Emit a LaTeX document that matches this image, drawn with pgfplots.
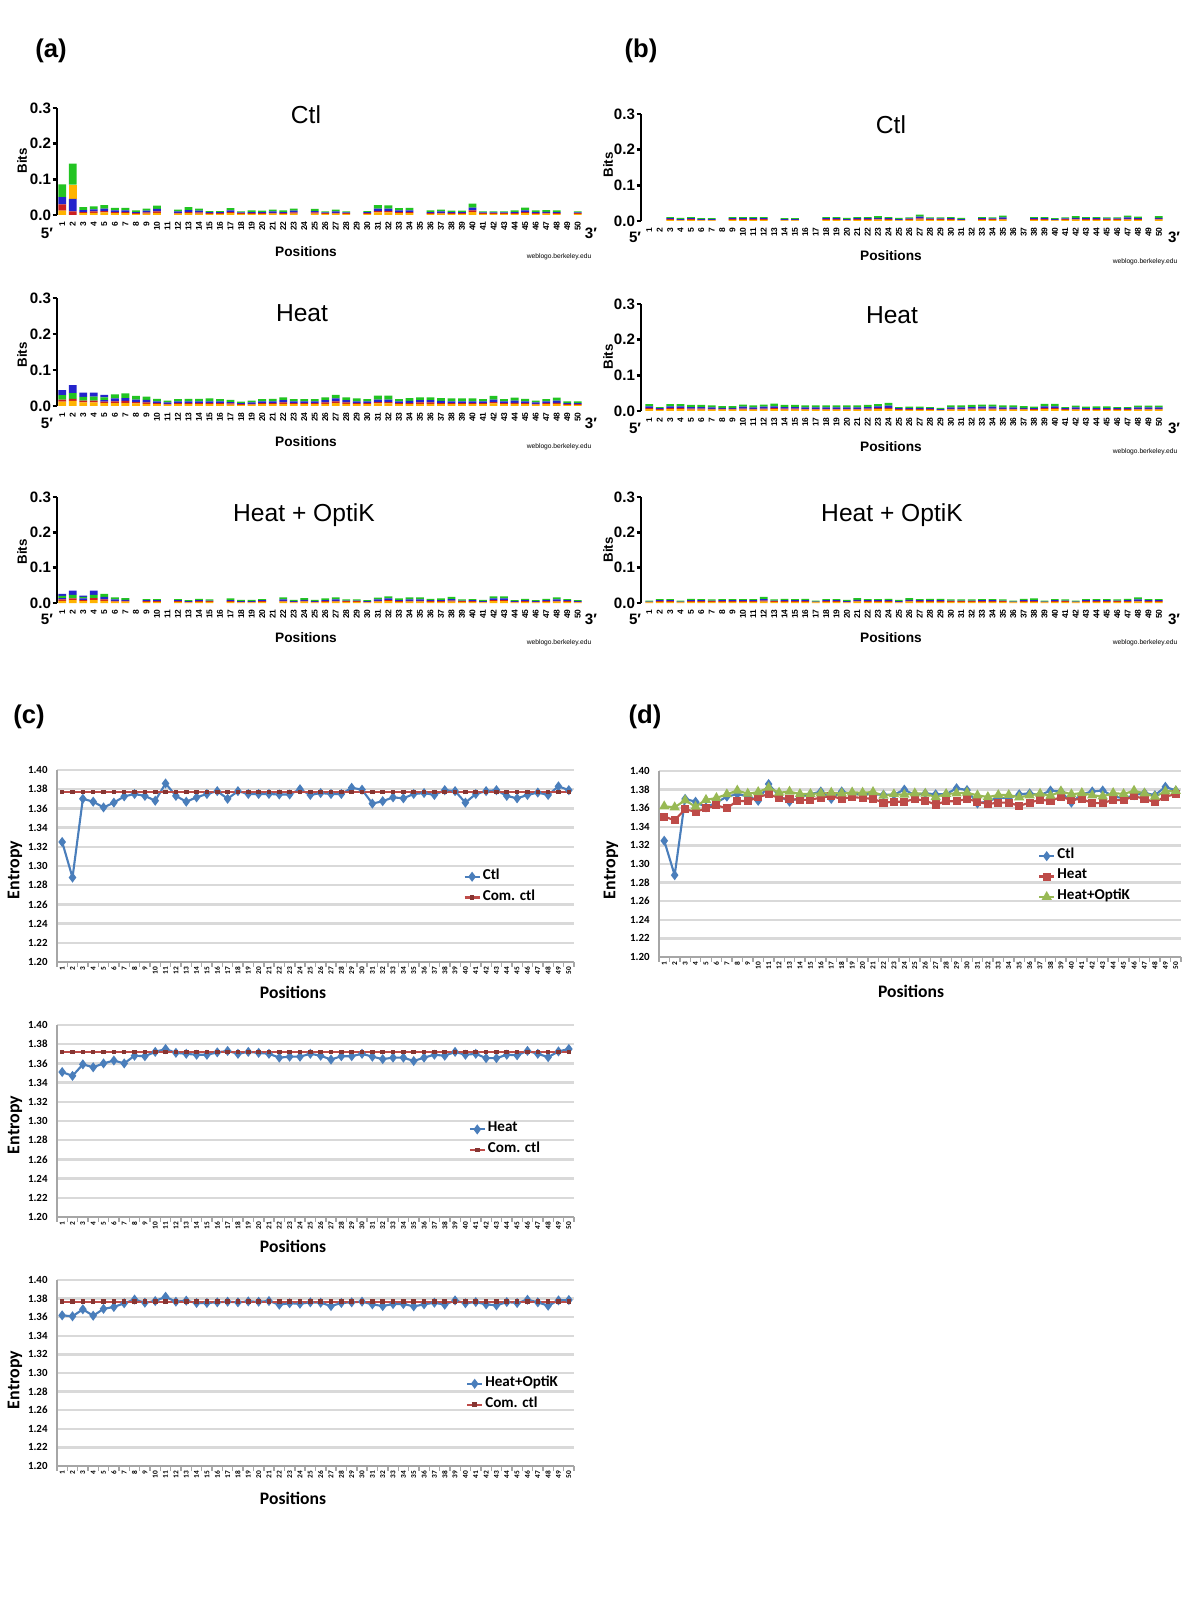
\documentclass[border=0pt]{standalone}
\usepackage{pgfplots}
\pgfplotsset{compat=1.18}
\usepackage{pgfplotstable}
\usepackage{fontspec}
\setmainfont{Liberation Sans}
\newfontfamily\carl{Carlito}
\definecolor{lA}{HTML}{22C422}
\definecolor{lC}{HTML}{2424CC}
\definecolor{lG}{HTML}{FFB300}
\definecolor{lT}{HTML}{CC2020}
\definecolor{xb}{HTML}{4A7EBB}
\definecolor{xr}{HTML}{BE4B48}
\definecolor{xg}{HTML}{98B954}
\definecolor{gridc}{HTML}{D9D9D9}
\definecolor{axg}{HTML}{A6A6A6}

% ---------- weblogo stacks (bits) : g t c g2 a c2 ----------
\pgfplotstableread{
x g t c g2 a c2
1 .012 .018 .020 0 .036 0
2 0 .010 .035 .040 .059 0
3 .005 .003 .006 0 .008 0
4 .006 .004 .006 0 .008 0
5 .007 .004 .007 0 .010 0
6 .005 .003 .005 0 .007 0
7 .005 .003 .005 0 .007 0
8 .003 .002 .003 0 .005 0
9 .004 .003 .005 0 .006 0
10 .006 .004 .007 0 .009 0
11 0 0 0 0 0 0
12 .004 .002 .004 0 .005 0
13 .005 .003 .006 0 .008 0
14 .004 .003 .005 0 .006 0
15 .003 .002 .003 0 .003 0
16 .003 .002 .003 0 .003 0
17 .005 .003 .005 0 .006 0
18 .003 .002 .002 0 .003 0
19 .003 .002 .003 0 .005 0
20 .003 .002 .003 0 .004 0
21 .004 .002 .004 0 .005 0
22 .003 .002 .003 0 .005 0
23 .004 .003 .005 0 .006 0
24 0 0 0 0 0 0
25 .004 .003 .004 0 .006 0
26 .003 .002 .002 0 .003 0
27 .004 .002 .004 0 .005 0
28 .003 .002 .002 0 .003 0
29 0 0 0 0 0 0
30 .003 .002 .003 0 .003 0
31 .007 .004 .007 0 .010 0
32 .007 .004 .007 0 .009 0
33 .005 .003 .005 0 .006 0
34 .005 .003 .005 0 .007 0
35 0 0 0 0 0 0
36 .003 .002 .003 0 .005 0
37 .004 .002 .004 0 .005 0
38 .003 .002 .003 0 .004 0
39 .003 .002 .003 0 .004 0
40 .008 .005 .008 0 .011 0
41 .003 .002 .002 0 .003 0
42 .003 .002 .002 0 .003 0
43 .003 .002 .002 0 .003 0
44 .003 .002 .003 0 .005 0
45 .005 .003 .005 0 .008 0
46 .003 .002 .003 0 .005 0
47 .004 .002 .003 0 .005 0
48 .003 .002 .003 0 .005 0
49 0 0 0 0 0 0
50 .003 .002 .002 0 .003 0
}\logoACtl

\pgfplotstableread{
x g t c g2 a c2
1 .012 .006 0 0 .012 .014
2 .014 .006 0 0 .016 .022
3 .010 .005 0 0 .010 .012
4 .010 .005 0 0 .011 .011
5 .008 .004 .004 0 .008 .007
6 .008 .005 .008 0 .011 0
7 .008 .006 .008 0 .013 0
8 .007 .004 .007 0 .010 0
9 .006 .004 .007 0 .009 0
10 .005 .003 .005 0 .007 0
11 .004 .002 .004 0 .005 0
12 .005 .003 .005 0 .006 0
13 .005 .003 .005 0 .007 0
14 .005 .003 .005 0 .007 0
15 .005 .003 .005 0 .008 0
16 .005 .003 .005 0 .006 0
17 .004 .003 .004 0 .006 0
18 .003 .002 .003 0 .004 0
19 .004 .002 .004 0 .005 0
20 .005 .003 .005 0 .006 0
21 .005 .003 .005 0 .007 0
22 .006 .004 .006 0 .008 0
23 .005 .003 .005 0 .006 0
24 .005 .003 .005 0 .006 0
25 .005 .003 .005 0 .006 0
26 .006 .004 .006 0 .008 0
27 .008 .005 .008 0 .010 0
28 .006 .004 .006 0 .008 0
29 .005 .003 .005 0 .008 0
30 .005 .003 .005 0 .006 0
31 .007 .004 .007 0 .011 0
32 .007 .004 .007 0 .011 0
33 .005 .003 .005 0 .006 0
34 .005 .003 .006 0 .008 0
35 .006 .004 .006 0 .008 0
36 .006 .004 .006 0 .008 0
37 .005 .003 .006 0 .008 0
38 .005 .003 .005 0 .008 0
39 .005 .003 .005 0 .008 0
40 .005 .003 .005 0 .008 0
41 .005 .003 .005 0 .006 0
42 .007 .004 .007 0 .010 0
43 .005 .003 .005 0 .006 0
44 .006 .003 .006 0 .008 0
45 .005 .003 .005 0 .007 0
46 .004 .002 .004 0 .005 0
47 .005 .003 .005 0 .006 0
48 .006 .003 .006 0 .008 0
49 .003 .002 .003 0 .005 0
50 .003 .002 .003 0 .005 0
}\logoAHeat

\pgfplotstableread{
x g t c g2 a c2
1 .006 .004 .004 0 .006 .006
2 .008 .005 0 0 .010 .012
3 .005 .003 .005 0 .004 .004
4 .008 .006 0 0 .009 .012
5 .006 .004 .007 0 .009 0
6 .004 .002 .004 0 .006 0
7 .004 .002 .003 0 .005 0
8 0 0 0 0 0 0
9 .003 .002 .003 0 .003 0
10 .003 .002 .003 0 .003 0
11 0 0 0 0 0 0
12 .003 .002 .003 0 .003 0
13 .002 .001 .002 0 .003 0
14 .003 .002 .003 0 .004 0
15 .003 .002 .002 0 .003 0
16 0 0 0 0 0 0
17 .003 .002 .003 0 .005 0
18 .002 .001 .002 0 .004 0
19 .002 .001 .002 0 .004 0
20 .003 .002 .003 0 .003 0
21 0 0 0 0 0 0
22 .004 .002 .004 0 .006 0
23 .002 .001 .002 0 .004 0
24 .004 .002 .003 0 .005 0
25 .002 .001 .002 0 .004 0
26 .003 .002 .003 0 .005 0
27 .004 .002 .004 0 .006 0
28 .003 .002 .002 0 .003 0
29 .003 .002 .002 0 .003 0
30 .002 .001 .002 0 .003 0
31 .004 .002 .004 0 .005 0
32 .005 .003 .005 0 .006 0
33 .003 .002 .003 0 .005 0
34 .004 .002 .004 0 .006 0
35 .004 .002 .004 0 .006 0
36 .003 .002 .003 0 .004 0
37 .003 .002 .003 0 .005 0
38 .004 .003 .004 0 .006 0
39 .003 .002 .002 0 .003 0
40 .003 .002 .003 0 .003 0
41 .002 .001 .002 0 .004 0
42 .005 .003 .005 0 .006 0
43 .005 .003 .005 0 .006 0
44 .002 .001 .002 0 .003 0
45 .003 .002 .003 0 .004 0
46 .002 .001 .002 0 .003 0
47 .003 .002 .003 0 .004 0
48 .004 .002 .004 0 .006 0
49 .003 .002 .003 0 .003 0
50 .002 .001 .002 0 .003 0
}\logoAHO

\pgfplotstableread{
x g t c g2 a c2
1 0 0 0 0 0 0
2 0 0 0 0 0 0
3 .003 .002 .003 0 .003 0
4 .002 .001 .002 0 .004 0
5 .003 .002 .003 0 .003 0
6 .002 .001 .002 0 .003 0
7 .002 .001 .002 0 .003 0
8 0 0 0 0 0 0
9 .003 .002 .003 0 .003 0
10 .003 .002 .003 0 .003 0
11 .003 .002 .003 0 .003 0
12 .003 .002 .003 0 .003 0
13 0 0 0 0 0 0
14 .002 .001 .002 0 .003 0
15 .002 .001 .002 0 .003 0
16 0 0 0 0 0 0
17 0 0 0 0 0 0
18 .003 .002 .003 0 .003 0
19 .003 .002 .003 0 .003 0
20 .002 .001 .002 0 .004 0
21 .003 .002 .003 0 .003 0
22 .003 .002 .003 0 .003 0
23 .004 .002 .003 0 .005 0
24 .003 .002 .003 0 .003 0
25 .002 .001 .002 0 .004 0
26 .003 .002 .002 0 .003 0
27 .004 .003 .005 0 .006 0
28 .003 .002 .002 0 .003 0
29 .003 .002 .002 0 .003 0
30 .003 .002 .003 0 .003 0
31 .002 .001 .002 0 .004 0
32 0 0 0 0 0 0
33 .003 .002 .003 0 .003 0
34 .003 .002 .002 0 .003 0
35 .004 .002 .004 0 .005 0
36 0 0 0 0 0 0
37 0 0 0 0 0 0
38 .003 .002 .003 0 .003 0
39 .003 .002 .003 0 .003 0
40 .002 .001 .002 0 .003 0
41 .003 .002 .002 0 .003 0
42 .004 .002 .003 0 .005 0
43 .003 .002 .003 0 .003 0
44 .003 .002 .003 0 .003 0
45 .003 .002 .002 0 .003 0
46 .003 .002 .002 0 .003 0
47 .004 .002 .004 0 .005 0
48 .003 .002 .003 0 .004 0
49 0 0 0 0 0 0
50 .004 .002 .003 0 .005 0
}\logoBCtl

\pgfplotstableread{
x g t c g2 a c2
1 .005 .003 .005 0 .006 0
2 .003 .002 .003 0 .003 0
3 .005 .003 .005 0 .006 0
4 .005 .003 .005 0 .006 0
5 .004 .003 .004 0 .006 0
6 .004 .003 .004 0 .006 0
7 .004 .002 .004 0 .006 0
8 .004 .002 .003 0 .005 0
9 .004 .002 .003 0 .005 0
10 .004 .003 .005 0 .006 0
11 .004 .002 .004 0 .006 0
12 .004 .003 .005 0 .006 0
13 .005 .003 .005 0 .008 0
14 .004 .003 .004 0 .006 0
15 .004 .003 .004 0 .006 0
16 .004 .002 .004 0 .006 0
17 .004 .002 .004 0 .006 0
18 .004 .002 .004 0 .006 0
19 .004 .002 .004 0 .006 0
20 .004 .002 .004 0 .006 0
21 .004 .002 .004 0 .006 0
22 .004 .003 .004 0 .006 0
23 .005 .003 .005 0 .006 0
24 .006 .003 .006 0 .008 0
25 .003 .002 .003 0 .003 0
26 .003 .002 .003 0 .004 0
27 .003 .002 .003 0 .004 0
28 .003 .002 .003 0 .003 0
29 .002 .001 .002 0 .004 0
30 .004 .002 .004 0 .006 0
31 .004 .002 .004 0 .006 0
32 .004 .003 .004 0 .006 0
33 .004 .003 .005 0 .006 0
34 .004 .003 .005 0 .006 0
35 .004 .002 .004 0 .006 0
36 .004 .002 .004 0 .006 0
37 .004 .002 .003 0 .005 0
38 .003 .002 .003 0 .004 0
39 .005 .003 .005 0 .007 0
40 .005 .003 .005 0 .007 0
41 .003 .002 .003 0 .003 0
42 .004 .002 .004 0 .005 0
43 .003 .002 .003 0 .004 0
44 .003 .002 .003 0 .005 0
45 .003 .002 .003 0 .005 0
46 .003 .002 .003 0 .003 0
47 .003 .002 .003 0 .003 0
48 .004 .002 .004 0 .005 0
49 .004 .002 .004 0 .005 0
50 .004 .002 .004 0 .005 0
}\logoBHeat

\pgfplotstableread{
x g t c g2 a c2
1 .002 .001 .001 0 .003 0
2 .003 .002 .003 0 .003 0
3 .003 .002 .003 0 .003 0
4 .002 .001 .001 0 .003 0
5 .003 .002 .003 0 .004 0
6 .003 .002 .003 0 .003 0
7 .003 .002 .002 0 .003 0
8 .003 .002 .003 0 .003 0
9 .003 .002 .003 0 .003 0
10 .003 .002 .003 0 .003 0
11 .003 .002 .003 0 .003 0
12 .004 .003 .004 0 .006 0
13 .003 .002 .002 0 .003 0
14 .003 .002 .003 0 .004 0
15 .003 .002 .003 0 .003 0
16 .003 .002 .003 0 .004 0
17 .002 .001 .001 0 .003 0
18 .003 .002 .003 0 .003 0
19 .003 .002 .003 0 .003 0
20 .002 .001 .002 0 .004 0
21 .004 .002 .003 0 .005 0
22 .003 .002 .003 0 .003 0
23 .003 .002 .003 0 .003 0
24 .003 .002 .003 0 .004 0
25 .002 .001 .002 0 .004 0
26 .004 .002 .003 0 .005 0
27 .003 .002 .003 0 .003 0
28 .003 .002 .003 0 .004 0
29 .003 .002 .003 0 .004 0
30 .003 .002 .002 0 .003 0
31 .003 .002 .002 0 .003 0
32 .003 .002 .002 0 .003 0
33 .003 .002 .003 0 .003 0
34 .003 .002 .003 0 .003 0
35 .003 .002 .002 0 .003 0
36 .002 .001 .001 0 .003 0
37 .003 .002 .003 0 .004 0
38 .003 .002 .003 0 .005 0
39 .002 .001 .001 0 .003 0
40 .003 .002 .003 0 .003 0
41 .003 .002 .002 0 .003 0
42 .002 .001 .001 0 .003 0
43 .003 .002 .003 0 .003 0
44 .003 .002 .003 0 .003 0
45 .003 .002 .003 0 .003 0
46 .003 .002 .002 0 .003 0
47 .003 .002 .003 0 .004 0
48 .004 .002 .004 0 .006 0
49 .003 .002 .003 0 .003 0
50 .003 .002 .003 0 .003 0
}\logoBHO

% ---------- entropy per position ----------
\pgfplotstableread{
x ctl heat ho cca ccb ccc
1 1.325 1.351 1.362 1.377 1.3718 1.3768
2 1.288 1.347 1.361 1.377 1.3718 1.3768
3 1.370 1.359 1.3685 1.377 1.3718 1.3768
4 1.367 1.356 1.3616 1.377 1.3718 1.3768
5 1.361 1.360 1.369 1.377 1.3718 1.3768
6 1.366 1.363 1.371 1.377 1.3718 1.3768
7 1.3725 1.360 1.375 1.377 1.3718 1.3768
8 1.375 1.368 1.379 1.377 1.3718 1.3768
9 1.373 1.3675 1.3756 1.377 1.3718 1.3768
10 1.368 1.372 1.3774 1.377 1.3718 1.3768
11 1.386 1.375 1.382 1.377 1.3718 1.3768
12 1.373 1.371 1.3767 1.377 1.3718 1.3768
13 1.367 1.370 1.3778 1.377 1.3718 1.3768
14 1.3715 1.369 1.3753 1.377 1.3718 1.3768
15 1.375 1.369 1.3753 1.377 1.3718 1.3768
16 1.378 1.3715 1.376 1.377 1.3718 1.3768
17 1.370 1.373 1.3767 1.377 1.3718 1.3768
18 1.378 1.370 1.376 1.377 1.3718 1.3768
19 1.375 1.372 1.377 1.377 1.3718 1.3768
20 1.375 1.371 1.3767 1.377 1.3718 1.3768
21 1.375 1.370 1.3774 1.377 1.3718 1.3768
22 1.3745 1.366 1.3735 1.377 1.3718 1.3768
23 1.3745 1.367 1.375 1.377 1.3718 1.3768
24 1.380 1.367 1.3745 1.377 1.3718 1.3768
25 1.374 1.370 1.376 1.377 1.3718 1.3768
26 1.376 1.368 1.3756 1.377 1.3718 1.3768
27 1.375 1.364 1.372 1.377 1.3718 1.3768
28 1.375 1.3675 1.3753 1.377 1.3718 1.3768
29 1.3815 1.3675 1.376 1.377 1.3718 1.3768
30 1.3795 1.370 1.3767 1.377 1.3718 1.3768
31 1.365 1.367 1.3738 1.377 1.3718 1.3768
32 1.3675 1.3645 1.372 1.377 1.3718 1.3768
33 1.3715 1.366 1.3742 1.377 1.3718 1.3768
34 1.3705 1.366 1.3742 1.377 1.3718 1.3768
35 1.375 1.3625 1.3717 1.377 1.3718 1.3768
36 1.376 1.366 1.3738 1.377 1.3718 1.3768
37 1.374 1.369 1.3756 1.377 1.3718 1.3768
38 1.379 1.368 1.3735 1.377 1.3718 1.3768
39 1.378 1.372 1.3781 1.377 1.3718 1.3768
40 1.366 1.369 1.375 1.377 1.3718 1.3768
41 1.375 1.370 1.3763 1.377 1.3718 1.3768
42 1.378 1.3655 1.3738 1.377 1.3718 1.3768
43 1.379 1.3655 1.3728 1.377 1.3718 1.3768
44 1.373 1.369 1.3763 1.377 1.3718 1.3768
45 1.3705 1.3685 1.3753 1.377 1.3718 1.3768
46 1.374 1.373 1.3788 1.377 1.3718 1.3768
47 1.3765 1.370 1.376 1.377 1.3718 1.3768
48 1.374 1.3665 1.3724 1.377 1.3718 1.3768
49 1.383 1.3725 1.3781 1.377 1.3718 1.3768
50 1.379 1.375 1.3785 1.377 1.3718 1.3768
}\ent

\pgfplotsset{
  logo/.style={
    scale only axis, width=5.26cm, height=1.07cm,
    xmin=0.5, xmax=50.5, ymin=0, ymax=0.3,
    ybar stacked, bar width=0.74,
    axis lines*=left,
    x axis line style={draw=none},
    y axis line style={line width=0.8pt, black},
    xtick={1,...,50}, xtick style={draw=none},
    ytick={0,0.1,0.2,0.3},
    ytick style={line width=0.8pt, black},
    tick align=outside, major tick length=0.045cm,
    /pgf/number format/assume math mode=true,
    yticklabel style={font=\fontsize{4.3}{5}\selectfont\bfseries, inner sep=0.25pt,
      /pgf/number format/.cd, fixed, fixed zerofill, precision=1, assume math mode=true},
    xticklabel style={rotate=90, anchor=east, font=\fontsize{2.4}{2.8}\selectfont\bfseries, inner sep=0.4pt},
    clip=false,
  },
  xls/.style={
    scale only axis, width=5.17cm, height=1.92cm,
    xmin=0.5, xmax=50.5, ymin=1.2, ymax=1.4,
    ytick={1.20,1.22,1.24,1.26,1.28,1.30,1.32,1.34,1.36,1.38,1.40},
    ymajorgrids, major grid style={gridc, line width=0.7pt},
    axis lines*=left, axis line style={axg, line width=0.5pt},
    xtick={1,...,50}, major x tick style={draw=none},
    minor xtick={0.5,1.5,...,50.5}, minor x tick style={axg, line width=0.4pt},
    ytick style={draw=none},
    tick align=outside, major tick length=0.02cm, minor tick length=0.045cm,
    /pgf/number format/assume math mode=true,
    yticklabel style={font=\carl\fontsize{3.1}{3.6}\selectfont\bfseries, inner sep=0.5pt, xshift=-0.05cm,
      /pgf/number format/.cd, fixed, fixed zerofill, precision=2, assume math mode=true},
    xticklabel style={rotate=90, anchor=east, font=\carl\fontsize{2.1}{2.4}\selectfont\bfseries, inner sep=0.6pt},
    legend style={draw=none, fill=none, font=\carl\fontsize{4.3}{5}\selectfont\bfseries,
      anchor=north west, inner sep=0pt, row sep=0.2pt, nodes={inner sep=0.6pt}},
    legend cell align=left,
    legend image code/.code={\draw[mark repeat=2,mark phase=2,##1] plot coordinates {(0cm,0cm)(0.075cm,0cm)(0.15cm,0cm)};},
  },
  ctlp/.style={xb, line width=0.6pt, mark=diamond*, mark size=0.95pt},
  heatp/.style={xr, line width=0.6pt, mark=square*, mark size=0.85pt},
  hop/.style={xg, line width=0.6pt, mark=triangle*, mark size=1.1pt},
  comp/.style={xr, line width=0.6pt, mark=square*, mark size=0.35pt, mark options={fill=xr!70!black, draw=xr!70!black}},
}

\newcommand\stacks[1]{%
  \addplot[fill=lG, draw=none] table[x=x,y=g]{#1};
  \addplot[fill=lT, draw=none] table[x=x,y=t]{#1};
  \addplot[fill=lC, draw=none] table[x=x,y=c]{#1};
  \addplot[fill=lG, draw=none] table[x=x,y=g2]{#1};
  \addplot[fill=lA, draw=none] table[x=x,y=a]{#1};
  \addplot[fill=lC, draw=none] table[x=x,y=c2]{#1};
}

\begin{document}
\begin{tikzpicture}
\path[use as bounding box, fill=white] (0,0) rectangle (12,-16);

% ===== panel labels =====
\tikzset{plab/.style={font=\fontsize{7.3}{8.5}\selectfont\bfseries, inner sep=0pt}}
\node[plab] at (0.51,-0.51) {(a)};
\node[plab] at (6.41,-0.51) {(b)};
\node[plab] at (0.29,-7.17) {(c)};
\node[plab] at (6.45,-7.17) {(d)};

\tikzset{
  ltitle/.style={font=\fontsize{7}{8}\selectfont, inner sep=0pt},
  lpos/.style={font=\fontsize{3.9}{4.5}\selectfont\bfseries, inner sep=0pt},
  lbits/.style={font=\fontsize{3.8}{4.5}\selectfont\bfseries, inner sep=0pt, rotate=90},
  lend/.style={font=\fontsize{4.3}{5}\selectfont\bfseries, inner sep=0pt},
  lweb/.style={font=\fontsize{1.9}{2.2}\selectfont, inner sep=0pt},
  xent/.style={font=\carl\fontsize{5.1}{6}\selectfont\bfseries, inner sep=0pt, rotate=90},
  xpos/.style={font=\carl\fontsize{5}{6}\selectfont\bfseries, inner sep=0pt},
}

% ===== (a) weblogos =====
\begin{axis}[logo, at={(0.57cm,-2.15cm)}, anchor=south west]
\stacks{\logoACtl}
\end{axis}
\begin{axis}[logo, at={(0.57cm,-4.06cm)}, anchor=south west, height=1.08cm]
\stacks{\logoAHeat}
\end{axis}
\begin{axis}[logo, at={(0.57cm,-6.03cm)}, anchor=south west, height=1.06cm]
\stacks{\logoAHO}
\end{axis}

% ===== (b) weblogos =====
\begin{axis}[logo, at={(6.41cm,-2.21cm)}, anchor=south west, xmin=0.2, width=5.23cm]
\stacks{\logoBCtl}
\end{axis}
\begin{axis}[logo, at={(6.41cm,-4.11cm)}, anchor=south west, xmin=0.2, width=5.23cm]
\stacks{\logoBHeat}
\end{axis}
\begin{axis}[logo, at={(6.41cm,-6.03cm)}, anchor=south west, xmin=0.2, width=5.23cm, height=1.06cm]
\stacks{\logoBHO}
\end{axis}

% weblogo texts
\node[ltitle] at (3.06,-1.15) {Ctl};
\node[ltitle] at (3.02,-3.13) {Heat};
\node[ltitle] at (3.04,-5.15) {Heat + OptiK};
\node[ltitle] at (8.91,-1.25) {Ctl};
\node[ltitle] at (8.92,-3.15) {Heat};
\node[ltitle] at (8.92,-5.15) {Heat + OptiK};

\node[lpos] at (3.06,-2.52) {Positions};
\node[lpos] at (3.06,-4.42) {Positions};
\node[lpos] at (3.06,-6.38) {Positions};
\node[lpos] at (8.91,-2.56) {Positions};
\node[lpos] at (8.91,-4.47) {Positions};
\node[lpos] at (8.91,-6.38) {Positions};

\node[lbits] at (0.22,-1.61) {Bits};
\node[lbits] at (0.22,-3.55) {Bits};
\node[lbits] at (0.22,-5.52) {Bits};
\node[lbits] at (6.08,-1.65) {Bits};
\node[lbits] at (6.08,-3.57) {Bits};
\node[lbits] at (6.08,-5.50) {Bits};

\node[lend] at (0.47,-2.33) {5′};
\node[lend] at (0.47,-4.23) {5′};
\node[lend] at (0.47,-6.19) {5′};
\node[lend] at (5.91,-2.33) {3′};
\node[lend] at (5.91,-4.23) {3′};
\node[lend] at (5.91,-6.19) {3′};
\node[lend] at (6.35,-2.37) {5′};
\node[lend] at (6.35,-4.28) {5′};
\node[lend] at (6.35,-6.19) {5′};
\node[lend] at (11.74,-2.37) {3′};
\node[lend] at (11.74,-4.28) {3′};
\node[lend] at (11.74,-6.19) {3′};

\node[lweb] at (5.59,-2.57) {weblogo.berkeley.edu};
\node[lweb] at (5.59,-4.47) {weblogo.berkeley.edu};
\node[lweb] at (5.59,-6.43) {weblogo.berkeley.edu};
\node[lweb] at (11.45,-2.62) {weblogo.berkeley.edu};
\node[lweb] at (11.45,-4.52) {weblogo.berkeley.edu};
\node[lweb] at (11.45,-6.43) {weblogo.berkeley.edu};

% ===== (c) entropy charts =====
\begin{axis}[xls, at={(0.57cm,-9.62cm)}, anchor=south west,
  legend style={at={(0.785,0.5)}}]
\addplot[ctlp] table[x=x,y=ctl]{\ent};
\addplot[comp] table[x=x,y=cca]{\ent};
\legend{Ctl, Com. ctl}
\end{axis}
\begin{axis}[xls, at={(0.57cm,-12.17cm)}, anchor=south west,
  legend style={at={(0.795,0.51)}}]
\addplot[ctlp] table[x=x,y=heat]{\ent};
\addplot[comp] table[x=x,y=ccb]{\ent};
\legend{Heat, Com. ctl}
\end{axis}
\begin{axis}[xls, at={(0.57cm,-14.66cm)}, anchor=south west, height=1.86cm,
  legend style={at={(0.79,0.5)}}]
\addplot[ctlp] table[x=x,y=ho]{\ent};
\addplot[comp] table[x=x,y=ccc]{\ent};
\legend{Heat+OptiK, Com. ctl}
\end{axis}

% ===== (d) =====
\begin{axis}[xls, at={(6.59cm,-9.57cm)}, anchor=south west, width=5.22cm, height=1.86cm,
  legend style={at={(0.725,0.6)}}]
\addplot[ctlp] table[x=x,y=ctl]{\ent};
\addplot[heatp] table[x=x,y=heat]{\ent};
\addplot[hop] table[x=x,y=ho]{\ent};
\legend{Ctl, Heat, Heat+OptiK}
\end{axis}

\node[xent] at (0.15,-8.70) {Entropy};
\node[xent] at (0.15,-11.25) {Entropy};
\node[xent] at (0.15,-13.80) {Entropy};
\node[xent] at (6.11,-8.70) {Entropy};
\node[xpos] at (2.93,-9.92) {Positions};
\node[xpos] at (2.93,-12.46) {Positions};
\node[xpos] at (2.93,-14.98) {Positions};
\node[xpos] at (9.11,-9.91) {Positions};
\end{tikzpicture}
\end{document}
